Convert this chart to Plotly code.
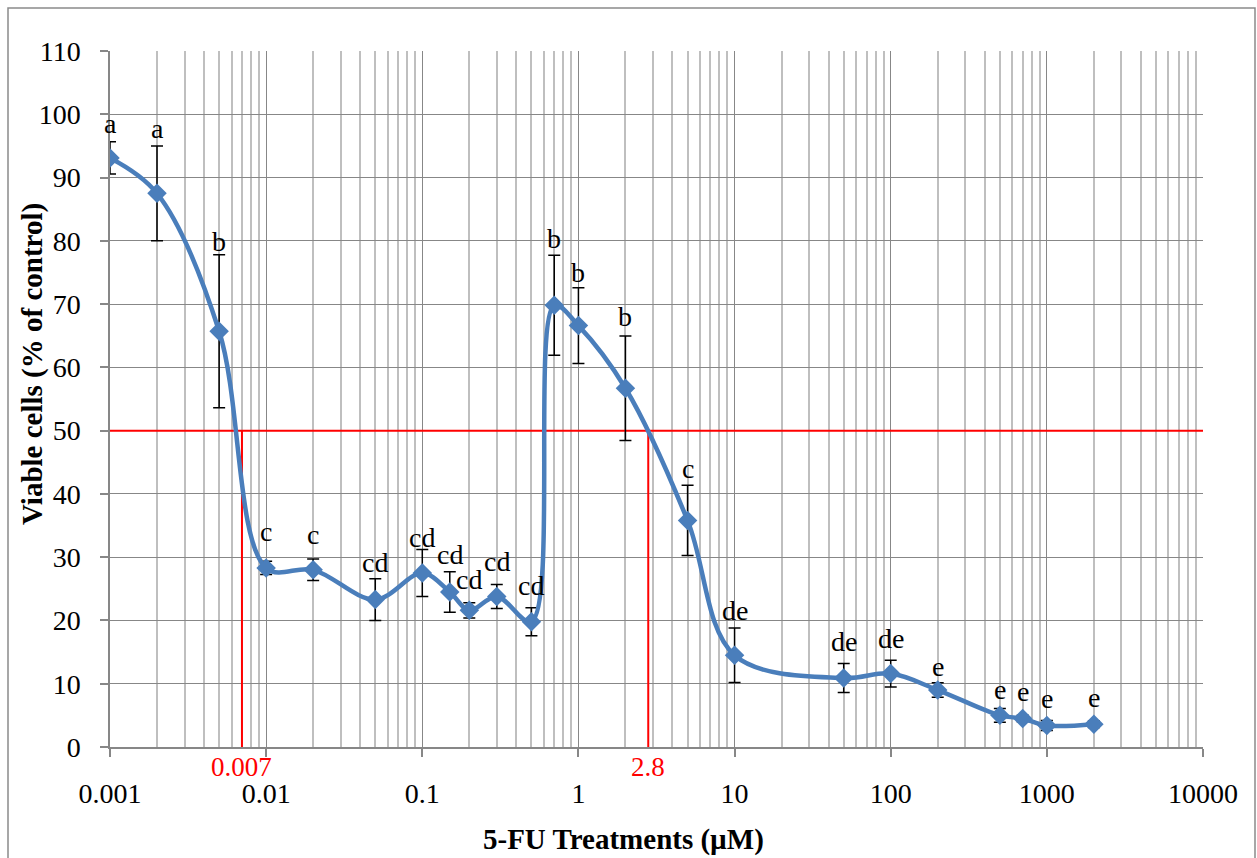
import numpy as np
import plotly.graph_objects as go

# ---- data ----
conc = [0.001, 0.002, 0.005, 0.01, 0.02, 0.05, 0.1, 0.15, 0.2, 0.3, 0.5, 0.7,
        1, 2, 5, 10, 50, 100, 200, 500, 700, 1000, 2000]
viable = [93.1, 87.5, 65.7, 28.3, 28.0, 23.3, 27.5, 24.5, 21.6, 23.8, 19.8, 69.8,
          66.6, 56.7, 35.8, 14.5, 10.9, 11.6, 9.0, 5.0, 4.5, 3.4, 3.6]
err = [2.55, 7.5, 12.1, 1.05, 1.7, 3.3, 3.7, 3.2, 1.2, 1.9, 2.2, 7.9,
       6.0, 8.25, 5.55, 4.3, 2.3, 2.1, 1.15, 1.1, 0.5, 0.8, 0.5]
letters = ["a", "a", "b", "c", "c", "cd", "cd", "cd", "cd", "cd", "cd", "b",
           "b", "b", "c", "de", "de", "de", "e", "e", "e", "e", "e"]
letter_y = [98.5, 97.8, 79.9, 34.0, 33.6, 29.1, 33.1, 30.4, 26.5, 29.3, 25.5, 80.4,
            75.0, 68.0, 44.0, 21.5, 16.6, 17.1, 12.8, 9.1, 8.7, 7.6, 7.8]
ic50 = [0.007, 2.8]
ic50_labels = ["0.007", "2.8"]
half_level = 50
x_tickvals = [0.001, 0.01, 0.1, 1, 10, 100, 1000, 10000]
x_ticktext = ["0.001", "0.01", "0.1", "1", "10", "100", "1000", "10000"]
y_tickvals = list(range(0, 111, 10))
minor_vals = [m * d for d in x_tickvals[:-1] for m in range(2, 10)]

FONT = "Liberation Serif"
BLUE = "#4A7EBB"
RED = "#FF0000"
MAJOR = "#878787"
MINOR = "#BFBFBF"

fig = go.Figure()

# red 50% reference lines
fig.add_trace(go.Scatter(x=[x_tickvals[0], x_tickvals[-1]], y=[half_level, half_level],
                         mode="lines", line=dict(color=RED, width=2),
                         hoverinfo="skip", showlegend=False, cliponaxis=False))
for v in ic50:
    fig.add_trace(go.Scatter(x=[v, v], y=[0, half_level], mode="lines",
                             line=dict(color=RED, width=2),
                             hoverinfo="skip", showlegend=False))

# error bars (behind the curve)
fig.add_trace(go.Scatter(x=conc, y=viable, mode="markers",
                         marker=dict(size=1, color="rgba(0,0,0,0)"),
                         error_y=dict(type="data", array=err, visible=True,
                                      color="black", thickness=1.5, width=6),
                         hoverinfo="skip", showlegend=False))

# smoothed curve with diamond markers
fig.add_trace(go.Scatter(x=conc, y=viable, mode="lines+markers",
                         line=dict(color=BLUE, width=4.5, shape="spline", smoothing=1.0),
                         marker=dict(symbol="diamond", size=15, color=BLUE),
                         showlegend=False))

L, R, T, B = 110, 54, 51, 111
W, H = 1257, 858
pw, ph = W - L - R, H - T - B

def px_x(p):
    return (p - L) / pw

def px_y(p):
    return (H - B - p) / ph

annotations = []
for xv, yv, t in zip(conc, letter_y, letters):
    annotations.append(dict(x=np.log10(xv), y=yv, xref="x", yref="y", text=t,
                            showarrow=False, yanchor="middle", xanchor="center",
                            font=dict(family=FONT, size=28, color="black")))
for xv, t in zip(ic50, ic50_labels):
    annotations.append(dict(x=np.log10(xv), y=px_y(767), xref="x", yref="paper", text=t,
                            showarrow=False, yanchor="middle", xanchor="center",
                            font=dict(family=FONT, size=27, color=RED)))

annotations.append(dict(x=px_x(623), y=px_y(839), xref="paper", yref="paper",
                        text="<b>5-FU Treatments (µM)</b>", showarrow=False,
                        xanchor="center", yanchor="middle",
                        font=dict(family=FONT, size=29, color="black")))
annotations.append(dict(x=px_x(32), y=px_y(364), xref="paper", yref="paper",
                        text="<b>Viable cells (% of control)</b>", showarrow=False,
                        textangle=-90, xanchor="center", yanchor="middle",
                        font=dict(family=FONT, size=29, color="black")))

fig.update_layout(
    width=W, height=H,
    margin=dict(l=L, r=R, t=T, b=B),
    paper_bgcolor="white", plot_bgcolor="white",
    font=dict(family=FONT),
    annotations=annotations,
    shapes=[dict(type="rect", xref="paper", yref="paper",
                 x0=px_x(8), x1=px_x(1255), y0=px_y(900), y1=px_y(8),
                 line=dict(color="#8A8A8A", width=1.5), layer="below")],
    xaxis=dict(type="log", range=[-3, 4], tickvals=x_tickvals, ticktext=x_ticktext,
               showgrid=True, gridcolor=MAJOR, gridwidth=1.3,
               minor=dict(showgrid=True, gridcolor=MINOR, gridwidth=1.5,
                          tickvals=minor_vals, ticks=""),
               showline=True, linecolor=MAJOR, linewidth=1.5,
               ticks="outside", ticklen=8, tickcolor=MAJOR, tickwidth=1.5,
               ticklabelstandoff=13,
               tickfont=dict(family=FONT, size=28, color="black"),
               zeroline=False),
    yaxis=dict(range=[0, 110], tickvals=y_tickvals,
               showgrid=True, gridcolor=MAJOR, gridwidth=1.3,
               showline=True, linecolor=MAJOR, linewidth=1.5,
               ticks="outside", ticklen=8, tickcolor=MAJOR, tickwidth=1.5,
               ticklabelstandoff=14,
               tickfont=dict(family=FONT, size=28, color="black"),
               zeroline=False),
)

fig.write_html("out.html")
